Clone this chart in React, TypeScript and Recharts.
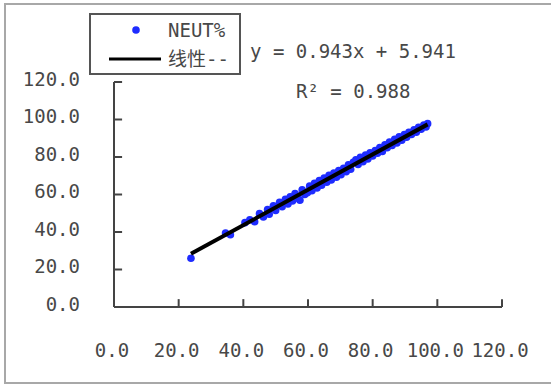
import React from 'react'
import { ComposedChart, Scatter, XAxis, YAxis, ReferenceLine } from 'recharts'

// NEUT% scatter
const neutX = [
  23.8, 34.5, 36.0, 40.5, 42.0, 43.5, 45.0, 46.2, 47.5, 48.0, 49.3, 50.0, 51.2, 52.0, 53.0, 53.8,
  54.5, 55.2, 56.0, 56.8, 57.5, 58.2, 59.0, 59.8, 60.5, 61.2, 62.0, 62.8, 63.5, 64.2, 65.0, 65.8,
  66.5, 67.2, 68.0, 68.8, 69.5, 70.2, 71.0, 71.8, 72.5, 73.2, 74.0, 74.8, 75.5, 76.2, 77.0, 77.8,
  78.5, 79.2, 80.0, 80.8, 81.5, 82.2, 83.0, 83.8, 84.5, 85.2, 86.0, 86.8, 87.5, 88.2, 89.0, 89.8,
  90.5, 91.2, 92.0, 92.8, 93.5, 94.2, 95.0, 95.8, 96.5, 97.0,
]
const neutY = [
  26.0, 39.5, 38.5, 45.0, 46.5, 45.5, 49.8, 48.0, 52.0, 49.5, 54.0, 51.5, 55.8, 53.5, 57.5, 55.0,
  58.8, 56.5, 60.5, 58.0, 57.0, 62.5, 60.0, 61.0, 64.5, 62.0, 66.0, 63.5, 67.5, 65.0, 68.8, 66.5,
  70.2, 67.8, 71.5, 69.2, 72.8, 70.5, 74.0, 72.2, 75.8, 73.5, 77.2, 78.5, 76.0, 79.8, 77.5, 81.0,
  79.0, 82.2, 80.5, 83.5, 82.0, 85.0, 83.0, 86.5, 85.0, 88.0, 86.2, 89.5, 87.5, 90.8, 89.0, 92.0,
  90.5, 93.2, 92.0, 94.5, 93.2, 95.8, 94.8, 97.0, 96.0, 97.8,
]

// linear trend line endpoints
const trendX = [23.8, 97.0]
const trendY = [28.4, 97.4]

const ticks = [0, 20, 40, 60, 80, 100, 120]
const equation = 'y = 0.943x + 5.941'
const rSquared = 'R² = 0.988'

const points = neutX.map((x, i) => ({ x, y: neutY[i] }))
const trend = trendX.map((x, i) => ({ x, y: trendY[i] }))

const FONT = '"DejaVu Sans Mono", "Noto Sans CJK SC", monospace'
const TEXT = '#484848'
const AXIS = '#444'

const Dot = (props: any) => <circle cx={props.cx} cy={props.cy} r={3.8} fill="#1e2cff" />

const LegendBox = () => (
  <div
    style={{
      position: 'absolute',
      left: 89,
      top: 13,
      width: 148,
      height: 58,
      border: '2px solid #555',
      background: '#fff',
      fontFamily: FONT,
      fontSize: 19,
      color: TEXT,
    }}
  >
    <svg width={70} height={58} style={{ position: 'absolute', left: 0, top: 0 }}>
      <circle cx={45} cy={15} r={3.8} fill="#1e2cff" />
      <line x1={18} y1={44} x2={71} y2={44} stroke="#000" strokeWidth={3} />
    </svg>
    <div style={{ position: 'absolute', left: 77, top: 5, lineHeight: '20px' }}>NEUT%</div>
    <div style={{ position: 'absolute', left: 77, top: 34, lineHeight: '20px' }}>线性--</div>
  </div>
)

export default function App() {
  return (
    <div style={{ position: 'absolute', left: 0, top: 0, width: 551, height: 387, overflow: 'hidden', background: '#fff' }}>
      <div
        style={{
          position: 'absolute',
          left: 4,
          top: 3,
          width: 600,
          height: 377,
          border: '2px solid #a8a8a8',
        }}
      />
      <ComposedChart width={551} height={387} margin={{ top: 82, right: 49, bottom: 20, left: 0 }} style={{ position: 'absolute', left: 0, top: 0 }}>
        <XAxis
          type="number"
          dataKey="x"
          domain={[0, 120]}
          ticks={ticks}
          interval={0}
          height={60}
          tickSize={5}
          tickMargin={32}
          tickLine={false}
          tickFormatter={(v: number) => v.toFixed(1)}
          stroke={AXIS}
          strokeWidth={2}
          tick={{ fill: TEXT, fontSize: 19, fontFamily: FONT, dx: -2 }}
        />
        <YAxis
          type="number"
          dataKey="y"
          domain={[0, 120]}
          ticks={ticks}
          interval={0}
          width={114}
          tickSize={5}
          tickMargin={29}
          tickLine={false}
          tickFormatter={(v: number) => v.toFixed(1)}
          stroke={AXIS}
          strokeWidth={2}
          tick={{ fill: TEXT, fontSize: 19, fontFamily: FONT, dy: -3 }}
        />
        {/* inward tick marks */}
        {ticks.map((v) => (
          <ReferenceLine key={'y' + v} segment={[{ x: 0, y: v }, { x: 2.5, y: v }]} stroke={AXIS} strokeWidth={2} ifOverflow="visible" />
        ))}
        {ticks.map((v) => (
          <ReferenceLine key={'x' + v} segment={[{ x: v, y: 0 }, { x: v, y: 4.2 }]} stroke={AXIS} strokeWidth={2} ifOverflow="visible" />
        ))}
        <Scatter name="NEUT%" data={points} fill="#1e2cff" shape={Dot} isAnimationActive={false} />
        <Scatter
          name="线性--"
          data={trend}
          line={{ stroke: '#000', strokeWidth: 4 }}
          shape={() => <g />}
          isAnimationActive={false}
        />
      </ComposedChart>
      <LegendBox />
      <div style={{ position: 'absolute', left: 250, top: 40, fontFamily: FONT, fontSize: 19, color: TEXT, whiteSpace: 'pre' }}>
        {equation}
      </div>
      <div style={{ position: 'absolute', left: 296, top: 80, fontFamily: FONT, fontSize: 19, color: TEXT, whiteSpace: 'pre' }}>
        {rSquared}
      </div>
    </div>
  )
}
